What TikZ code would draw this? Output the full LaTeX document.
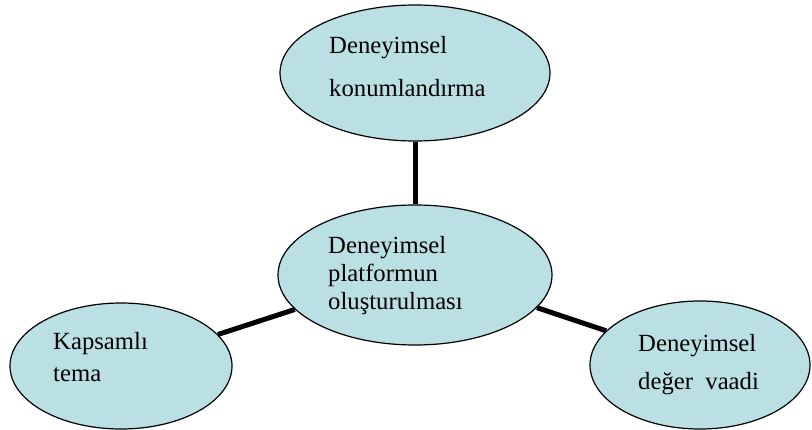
\documentclass[tikz,border=0pt]{standalone}
\usepackage{fontspec}
\setmainfont{Liberation Serif}
\usetikzlibrary{shapes.geometric}
\definecolor{bubblefill}{RGB}{187,224,227}
\tikzset{
  bubble/.style={ellipse, draw=black, line width=1.2pt, fill=bubblefill, inner sep=0pt},
  label/.style={anchor=base west, inner sep=0pt, font=\fontsize{24.7}{28}\selectfont},
  link/.style={line width=5pt}
}
\begin{document}
\begin{tikzpicture}[x=1pt,y=-1pt]
\useasboundingbox (0,0) rectangle (812,430);
% ellipses
\node[bubble, minimum width=270pt, minimum height=136pt] (top) at (415,73) {};
\node[bubble, minimum width=274pt, minimum height=140pt] (mid) at (415,275) {};
\node[bubble, minimum width=222pt, minimum height=126pt] (left) at (121,366) {};
\node[bubble, minimum width=220pt, minimum height=128pt] (right) at (700,365) {};
% spokes
\draw[link] (top) -- (mid);
\draw[link] (mid.196.5) -- (left.18.4);
\draw[link] (mid.-15) -- (right.160);
% texts
\node[label] (t1) at (329,54) {Deneyimsel};
\node[label] (t2) at (329,97) {konumlandırma};
\node[label] (m1) at (328,254) {Deneyimsel};
\node[label] (m2) at (328,282) {platformun};
\node[label] (m3) at (328,310) {oluşturulması};
\node[label] (l1) at (53,350) {Kapsamlı};
\node[label] (l2) at (53,382) {tema};
\node[label] (r1) at (638,352) {Deneyimsel};
\node[label] (r2) at (638,390) {değer\ \ vaadi};
\end{tikzpicture}
\end{document}
